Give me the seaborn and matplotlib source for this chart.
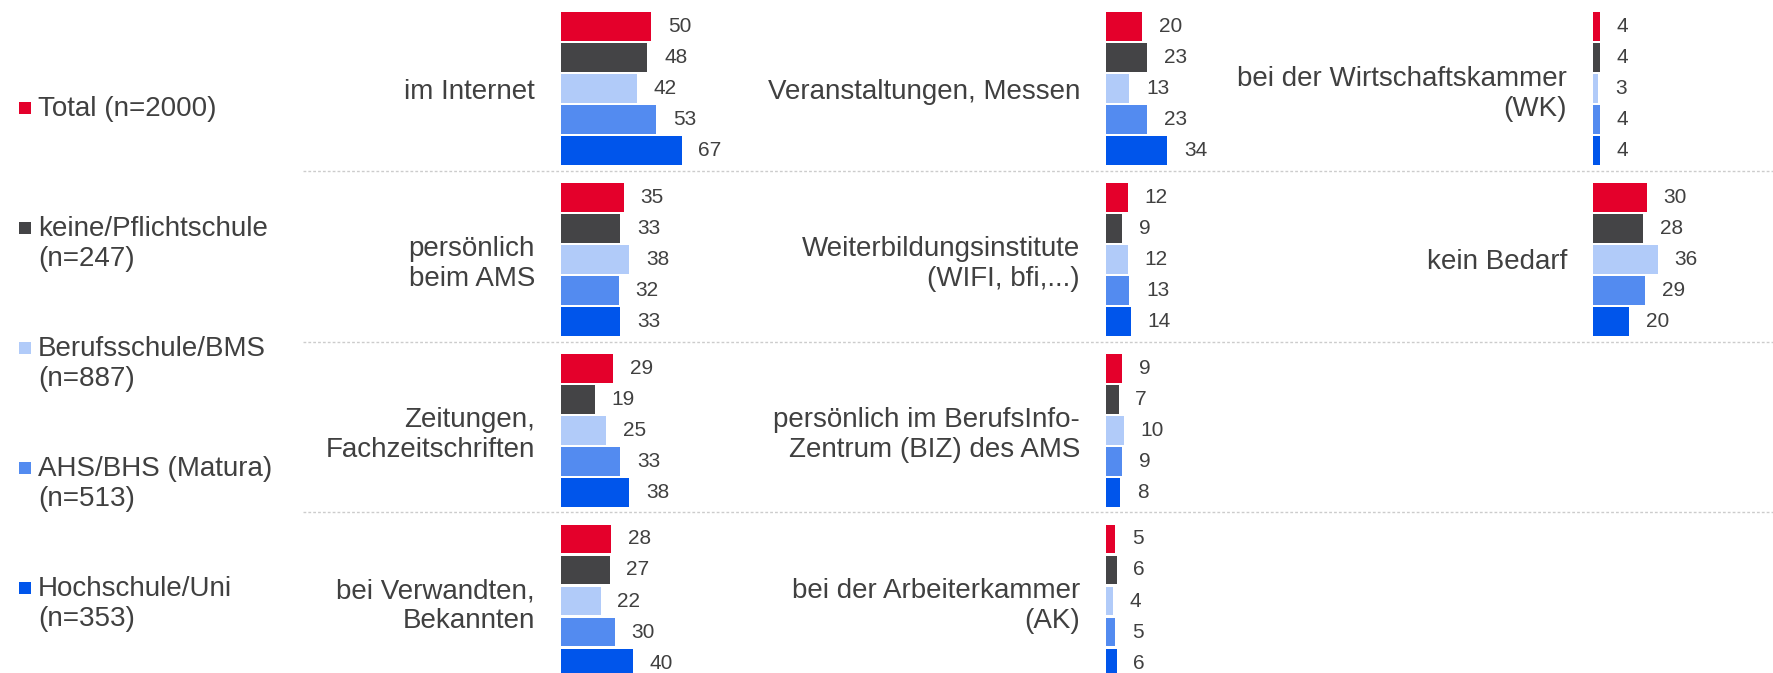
import pandas as pd
import matplotlib.pyplot as plt
import seaborn as sns

sns.set_style('white')
plt.rcParams['font.family'] = ['Liberation Sans', 'DejaVu Sans']

# Gruppen (Bildung) und Farben
gruppen = ['Total (n=2000)', 'keine/Pflichtschule\n(n=247)', 'Berufsschule/BMS\n(n=887)',
           'AHS/BHS (Matura)\n(n=513)', 'Hochschule/Uni\n(n=353)']
farben = ['#e4002b', '#444446', '#b1cbf9', '#538bf0', '#0055eb']

# Spalte 1
kat_1 = ['im Internet', 'persönlich\nbeim AMS', 'Zeitungen,\nFachzeitschriften', 'bei Verwandten,\nBekannten']
werte_1 = [[50, 48, 42, 53, 67],
           [35, 33, 38, 32, 33],
           [29, 19, 25, 33, 38],
           [28, 27, 22, 30, 40]]
# Spalte 2
kat_2 = ['Veranstaltungen, Messen', 'Weiterbildungsinstitute\n(WIFI, bfi,...)',
         'persönlich im BerufsInfo-\nZentrum (BIZ) des AMS', 'bei der Arbeiterkammer\n(AK)']
werte_2 = [[20, 23, 13, 23, 34],
           [12, 9, 12, 13, 14],
           [9, 7, 10, 9, 8],
           [5, 6, 4, 5, 6]]
# Spalte 3
kat_3 = ['bei der Wirtschaftskammer\n(WK)', 'kein Bedarf']
werte_3 = [[4, 4, 3, 4, 4],
           [30, 28, 36, 29, 20]]

textfarbe = '#404040'
W, H = 1773, 673
px_pro_einheit = 1.8


def armar_df(kats, werte):
    filas = []
    for kat, vals in zip(kats, werte):
        for g, v in zip(gruppen, vals):
            filas.append({'kat': kat, 'gruppe': g, 'wert': v})
    return pd.DataFrame(filas)


fig = plt.figure(figsize=(W / 100, H / 100), dpi=100)

# fondo: separadores y leyenda en pixeles
bg = fig.add_axes([0, 0, 1, 1])
bg.set_xlim(0, W)
bg.set_ylim(H, 0)
bg.axis('off')
for i in range(3):
    bg.hlines(171 + 170.6 * i, 303, W, color='#cccccc', lw=1, linestyle=(0, (2, 1.5)))

for i, (g, c) in enumerate(zip(gruppen, farben)):
    y = 108 + 120 * i
    bg.scatter([24.5], [y], marker='s', s=80, color=c, linewidths=0)
    # top of first line so the square sits next to line 1
    bg.text(38, y - 12.5, g, fontsize=20, color=textfarbe, va='top', ha='left')

columnas = [(561, kat_1, werte_1), (1106, kat_2, werte_2), (1593, kat_3, werte_3)]
for x0, kats, werte in columnas:
    ancho = 170
    ax = fig.add_axes([x0 / W, 0, ancho / W, 1])
    ax.patch.set_alpha(0)
    df = armar_df(kats, werte)
    sns.barplot(data=df, x='wert', y='kat', hue='gruppe', order=kats, hue_order=gruppen,
                palette=farben, saturation=1, width=0.9075, gap=0.075, linewidth=0,
                legend=False, ax=ax)
    for cont in ax.containers:
        ax.bar_label(cont, padding=12, fontsize=15, color=textfarbe)
    ax.set_xlim(0, ancho / px_pro_einheit)
    ax.set_ylim((H - 88.6) / 170.8, -88.6 / 170.8)
    ax.set_xlabel('')
    ax.set_ylabel('')
    ax.set_xticks([])
    ax.tick_params(axis='y', length=0, pad=18.7, labelsize=20, labelcolor=textfarbe)
    sns.despine(ax=ax, left=True, bottom=True)

fig.savefig('out.png', dpi=100)
